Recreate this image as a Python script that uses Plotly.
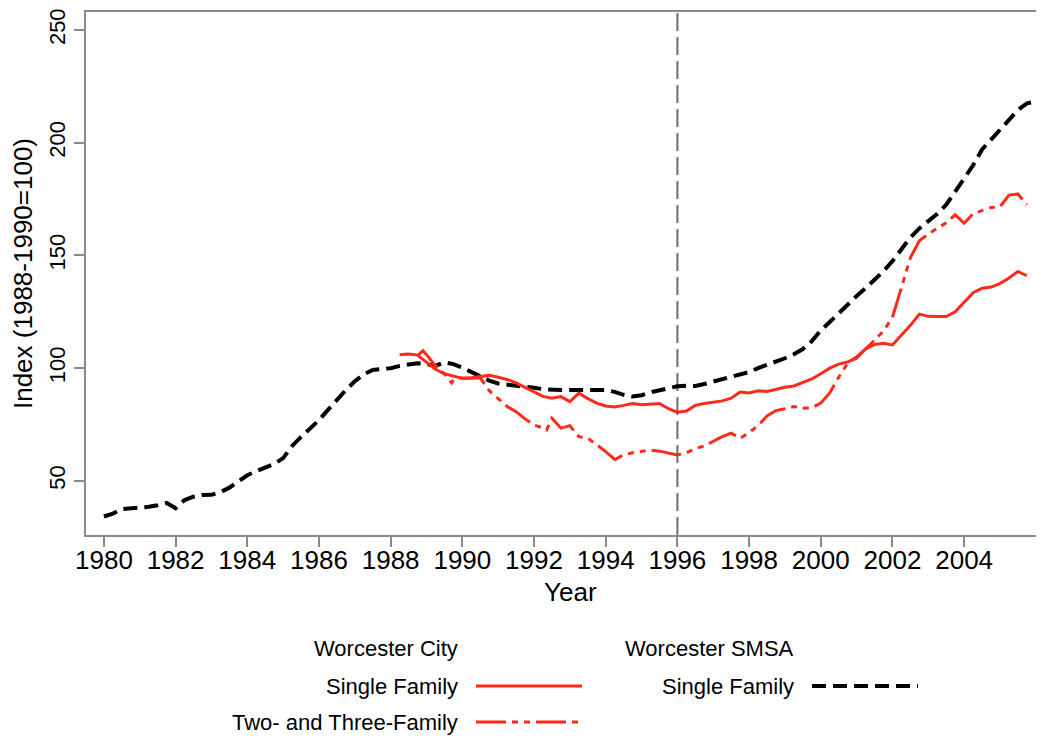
import plotly.graph_objects as go

# ---------------- data ----------------
smsa_years = [1980.0, 1980.25, 1980.5, 1980.75, 1981.0, 1981.25, 1981.5, 1981.75,
              1982.0, 1982.25, 1982.5, 1982.75, 1983.0, 1983.25, 1983.5, 1983.75,
              1984.0, 1984.25, 1984.5, 1984.75, 1985.0, 1985.25, 1985.5, 1985.75,
              1986.0, 1986.25, 1986.5, 1986.75, 1987.0, 1987.25, 1987.5, 1987.75,
              1988.0, 1988.25, 1988.5, 1988.75, 1989.0, 1989.25, 1989.5, 1989.75,
              1990.0, 1990.25, 1990.5, 1990.75, 1991.0, 1991.25, 1991.5, 1991.75,
              1992.0, 1992.25, 1992.5, 1992.75, 1993.0, 1993.25, 1993.5, 1993.75,
              1994.0, 1994.25, 1994.5, 1994.75, 1995.0, 1995.25, 1995.5, 1995.75,
              1996.0, 1996.25, 1996.5, 1996.75, 1997.0, 1997.25, 1997.5, 1997.75,
              1998.0, 1998.25, 1998.5, 1998.75, 1999.0, 1999.25, 1999.5, 1999.75,
              2000.0, 2000.25, 2000.5, 2000.75, 2001.0, 2001.25, 2001.5, 2001.75,
              2002.0, 2002.25, 2002.5, 2002.75, 2003.0, 2003.25, 2003.5, 2003.75,
              2004.0, 2004.25, 2004.5, 2004.75, 2005.0, 2005.25, 2005.5, 2005.75,
              2006.0]
smsa_single = [34.2, 35.5, 37.5, 37.9, 37.9, 38.5, 39.2, 40.2,
               37.9, 41.5, 43.0, 43.7, 43.8, 45.0, 47.0, 49.5,
               52.5, 54.3, 55.8, 57.5, 60.1, 65.5, 69.5, 73.0,
               77.0, 81.5, 86.2, 90.3, 94.2, 97.3, 99.2, 99.6,
               100.0, 101.0, 101.8, 102.2, 101.8, 101.0, 102.6, 101.8,
               100.2, 98.3, 96.3, 94.5, 93.2, 92.8, 92.1, 91.6,
               91.3, 90.7, 90.4, 90.3, 90.3, 90.3, 90.4, 90.6,
               90.3, 89.5, 88.2, 87.4, 88.0, 89.3, 90.2, 91.3,
               92.0, 92.2, 92.1, 93.0, 94.0, 95.0, 96.0, 97.1,
               98.3, 100.0, 101.4, 102.8, 104.4, 106.2, 108.5, 112.0,
               116.8, 120.5, 124.5, 128.5, 132.0, 135.5, 139.0, 143.0,
               147.5, 153.0, 158.0, 162.0, 165.0, 168.5, 172.5, 178.5,
               184.0, 190.0, 197.0, 201.5, 205.5, 210.5, 214.5, 217.5,
               218.2]

city_sf_years = [1988.25, 1988.5, 1988.75, 1989.0, 1989.25, 1989.5, 1989.75,
                 1990.0, 1990.25, 1990.5, 1990.75, 1991.0, 1991.25, 1991.5, 1991.75,
                 1992.0, 1992.25, 1992.5, 1992.75, 1993.0, 1993.25, 1993.5, 1993.75,
                 1994.0, 1994.25, 1994.5, 1994.75, 1995.0, 1995.25, 1995.5, 1995.75,
                 1996.0, 1996.25, 1996.5, 1996.75, 1997.0, 1997.25, 1997.5, 1997.75,
                 1998.0, 1998.25, 1998.5, 1998.75, 1999.0, 1999.25, 1999.5, 1999.75,
                 2000.0, 2000.25, 2000.5, 2000.75, 2001.0, 2001.25, 2001.5, 2001.75,
                 2002.0, 2002.25, 2002.5, 2002.75, 2003.0, 2003.25, 2003.5, 2003.75,
                 2004.0, 2004.25, 2004.5, 2004.75, 2005.0, 2005.25, 2005.5, 2005.75]
city_single = [106.0, 106.3, 105.8, 102.5, 99.5, 97.5, 96.5,
               95.5, 95.8, 96.3, 96.8, 96.0, 95.0, 93.5, 91.5,
               89.5, 87.5, 86.7, 87.4, 85.2, 88.9, 86.5, 84.5,
               83.2, 82.8, 83.5, 84.3, 83.8, 84.0, 84.3, 82.0,
               80.5, 81.0, 83.5, 84.3, 85.0, 85.5, 86.7, 89.4,
               89.0, 90.0, 89.7, 90.7, 91.5, 92.1, 93.8, 95.2,
               97.5, 100.0, 101.8, 102.8, 104.4, 108.5, 110.5, 111.0,
               110.3, 114.5, 119.0, 124.0, 123.0, 122.9, 122.9, 125.0,
               129.5, 133.5, 135.5, 136.0, 137.5, 140.0, 142.9, 141.0]

city_tt_years = [1988.75, 1988.9, 1989.0, 1989.25, 1989.5, 1989.7, 1989.8,
                 1990.0, 1990.25, 1990.5, 1990.75, 1991.0, 1991.25, 1991.5, 1991.75,
                 1992.0, 1992.25, 1992.35, 1992.5, 1992.75, 1993.0, 1993.25, 1993.5,
                 1993.75, 1994.0, 1994.25, 1994.5, 1994.75, 1995.0, 1995.25, 1995.5,
                 1995.75, 1996.0, 1996.25, 1996.5, 1996.75, 1997.0, 1997.25, 1997.5,
                 1997.75, 1998.0, 1998.25, 1998.5, 1998.75, 1999.0, 1999.25, 1999.5,
                 1999.75, 2000.0, 2000.25, 2000.5, 2000.75, 2001.0, 2001.25, 2001.5,
                 2001.75, 2002.0, 2002.25, 2002.5, 2002.75, 2003.0, 2003.25, 2003.5,
                 2003.75, 2004.0, 2004.25, 2004.5, 2004.75, 2005.0, 2005.25, 2005.5,
                 2005.75]
city_two_three = [105.5, 107.8, 106.0, 101.0, 97.5, 93.5, 96.0,
                  95.5, 95.5, 95.7, 90.0, 86.5, 83.0, 80.7, 77.5,
                  74.8, 73.5, 72.6, 77.8, 73.4, 74.5, 69.6, 68.9,
                  66.0, 63.0, 59.5, 61.5, 62.5, 63.2, 63.7, 63.2,
                  62.5, 61.5, 62.5, 64.3, 65.5, 67.5, 69.6, 71.2,
                  68.9, 71.5, 74.5, 78.8, 81.2, 82.0, 83.0, 82.2,
                  82.4, 84.5, 89.0, 96.0, 102.2, 105.0, 108.5, 112.5,
                  116.5, 122.5, 135.5, 149.0, 156.5, 159.5, 162.0, 164.5,
                  168.0, 164.3, 168.5, 170.0, 171.3, 171.6, 176.8, 177.3,
                  172.5]

x_ticks = [1980, 1982, 1984, 1986, 1988, 1990, 1992, 1994, 1996, 1998, 2000, 2002, 2004]
y_ticks = [50, 100, 150, 200, 250]
break_year = 1996
x_title = "Year"
y_title = "Index (1988-1990=100)"

# ---------------- styling ----------------
RED = "#ff2a1a"
BLACK = "#000000"
GRAY = "#8a8a8a"
FONT = "Liberation Sans, Arial, sans-serif"
DASH_BLACK = "14px,7px"
DASH_TT = "30px,6px,6px,6px,6px,6px"

fig = go.Figure()
fig.add_trace(go.Scatter(x=smsa_years, y=smsa_single, mode="lines",
                         line=dict(color=BLACK, width=4, dash=DASH_BLACK),
                         showlegend=False))
fig.add_trace(go.Scatter(x=city_tt_years, y=city_two_three, mode="lines",
                         line=dict(color=RED, width=3, dash=DASH_TT),
                         showlegend=False))
fig.add_trace(go.Scatter(x=city_sf_years, y=city_single, mode="lines",
                         line=dict(color=RED, width=3),
                         showlegend=False))

fig.add_shape(type="line", xref="x", yref="paper", x0=break_year, x1=break_year,
              y0=0, y1=1, line=dict(color="#6e6e6e", width=2, dash="18px,6px"),
              layer="below")

# page body has an 8px margin, so the figure is laid out in figure px = page px - 8
OFF = 8
W, H = 1044 - OFF, 738 - OFF
L, R, T, B = 86 - OFF, 1043 - OFF, 12 - OFF, 535 - OFF


def px_x(p):
    return (p - OFF - L) / (R - L)


def px_y(p):
    return (B - (p - OFF)) / (B - T)


axis_font = dict(family=FONT, size=26, color="black")
ytick_font = dict(family=FONT, size=22, color="black")

# x-axis title as an annotation (page px position)
fig.add_annotation(text=x_title, xref="paper", yref="paper", x=px_x(570), y=px_y(592),
                   xanchor="center", yanchor="middle", showarrow=False, font=axis_font)

# custom legend (positions given in page pixels)
legend_font = dict(family=FONT, size=22, color="black")
rows = [648, 686, 722]
texts = [
    ("Worcester City", 460, rows[0]),
    ("Single Family", 460, rows[1]),
    ("Two- and Three-Family", 460, rows[2]),
    ("Worcester SMSA", 796, rows[0]),
    ("Single Family", 796, rows[1]),
]
for t, xr, yc in texts:
    fig.add_annotation(text=t, xref="paper", yref="paper", x=px_x(xr), y=px_y(yc),
                       xanchor="right", yanchor="middle", showarrow=False,
                       font=legend_font)

samples = [
    (476, 582, rows[1], RED, 3, "solid"),
    (476, 582, rows[2], RED, 3, DASH_TT),
    (812, 918, rows[1], BLACK, 4, DASH_BLACK),
]
for x0, x1, yc, col, w, d in samples:
    fig.add_shape(type="line", xref="paper", yref="paper",
                  x0=px_x(x0), x1=px_x(x1), y0=px_y(yc), y1=px_y(yc),
                  line=dict(color=col, width=w, dash=d))

fig.update_layout(
    width=W, height=H,
    margin=dict(l=L, r=W - R, t=T, b=H - B, pad=0),
    paper_bgcolor="white", plot_bgcolor="white",
    font=dict(family=FONT, color="black"),
    xaxis=dict(range=[1979.5, 2006.2], tickvals=x_ticks, ticktext=[str(v) for v in x_ticks],
               ticks="outside", ticklen=10, tickwidth=1.5, tickcolor=GRAY,
               ticklabelstandoff=-9, ticklabeloverflow="allow",
               showline=True, linecolor=GRAY, linewidth=1.5, mirror=True,
               showgrid=False, zeroline=False, automargin=False,
               tickfont=axis_font),
    yaxis=dict(range=[26, 258], tickvals=y_ticks, ticktext=[str(v) for v in y_ticks],
               ticks="outside", ticklen=10, tickwidth=1.5, tickcolor=GRAY,
               tickangle=-90, ticklabeloverflow="allow",
               showline=True, linecolor=GRAY, linewidth=1.5, mirror=True,
               showgrid=False, zeroline=False, automargin=False,
               tickfont=ytick_font,
               title=dict(text=y_title, font=axis_font, standoff=8)),
)

fig.write_html("out.html")
